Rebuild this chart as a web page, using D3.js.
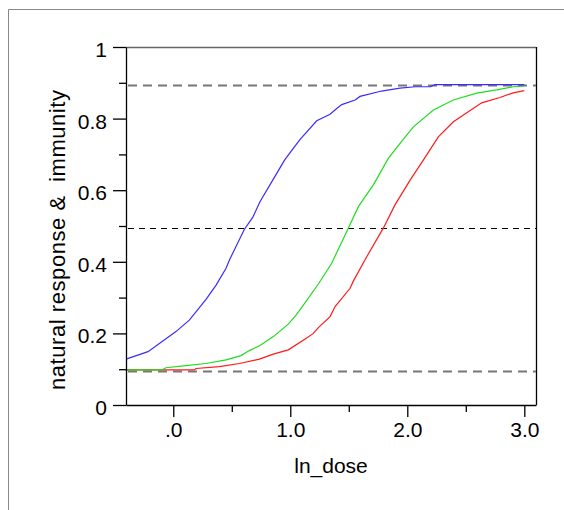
<!DOCTYPE html>
<html>
<head>
<meta charset="utf-8">
<script src="https://cdn.jsdelivr.net/npm/d3@7"></script>
<style>
  body { margin: 0; background: #fff; }
  svg text { font-family: "Liberation Sans", Arial, sans-serif; fill: #000; }
</style>
</head>
<body>
<div id="chart"></div>
<script>
// ln_dose / response values
const blueDose = [-0.404, -0.216, 0.023, 0.137, 0.28, 0.366, 0.451, 0.48, 0.608, 0.679, 0.741, 0.85, 0.955, 1.084, 1.226, 1.34, 1.397, 1.44, 1.554, 1.596, 1.78, 1.938, 2.066, 2.2, 2.236, 2.5, 2.8, 3.0]
const blueResp = [0.128, 0.149, 0.205, 0.237, 0.295, 0.335, 0.382, 0.405, 0.491, 0.524, 0.568, 0.628, 0.686, 0.742, 0.794, 0.812, 0.828, 0.839, 0.852, 0.862, 0.877, 0.885, 0.889, 0.889, 0.895, 0.895, 0.895, 0.895]

const greenDose = [-0.404, -0.1, -0.063, 0.108, 0.28, 0.451, 0.579, 0.65, 0.741, 0.855, 0.983, 1.049, 1.112, 1.24, 1.354, 1.496, 1.582, 1.71, 1.838, 1.938, 2.052, 2.223, 2.394, 2.593, 2.764, 2.906, 3.0]
const greenResp = [0.098, 0.098, 0.104, 0.11, 0.116, 0.126, 0.138, 0.152, 0.166, 0.191, 0.226, 0.251, 0.279, 0.338, 0.396, 0.494, 0.554, 0.615, 0.689, 0.731, 0.777, 0.824, 0.852, 0.871, 0.88, 0.889, 0.891]

const redDose = [-0.404, 0.18, 0.195, 0.394, 0.565, 0.736, 0.855, 0.983, 1.134, 1.197, 1.24, 1.34, 1.383, 1.511, 1.539, 1.653, 1.795, 1.895, 2.024, 2.137, 2.265, 2.394, 2.636, 2.792, 2.906, 3.0]
const redResp = [0.098, 0.098, 0.102, 0.107, 0.116, 0.128, 0.142, 0.154, 0.186, 0.2, 0.216, 0.247, 0.275, 0.326, 0.346, 0.414, 0.494, 0.559, 0.628, 0.684, 0.749, 0.791, 0.844, 0.859, 0.872, 0.878]

const refLevels = [0.095, 0.495, 0.895]
const xMajor = [0, 1, 2, 3]
const xMinor = [0.5, 1.5, 2.5]
const yMajor = [0, 0.2, 0.4, 0.6, 0.8, 1]
const yMinor = [0.1, 0.3, 0.5, 0.7, 0.9]

const W = 564, H = 510
const margin = {top: 47, right: 28, bottom: 105, left: 126}
const width = W - margin.left - margin.right
const height = H - margin.top - margin.bottom

const svg = d3.select("#chart")
  .append("svg")
  .attr("width", W)
  .attr("height", H)

// outer frame (left + top only)
svg.append("path")
  .attr("d", "M8.5," + H + "V9.5H" + W)
  .attr("fill", "none")
  .attr("stroke", "#888")
  .attr("stroke-width", 1)

const g = svg.append("g")
  .attr("transform", "translate(" + margin.left + "," + margin.top + ")")

const x = d3.scaleLinear().domain([-0.404, 3.1]).range([0, width])
const y = d3.scaleLinear().domain([0, 1]).range([height, 0])

// box top + right
g.append("line").attr("x1", 0).attr("x2", width).attr("y1", 0.5).attr("y2", 0.5)
  .attr("stroke", "#666").attr("stroke-width", 1.5)
g.append("line").attr("x1", width + 0.5).attr("x2", width + 0.5).attr("y1", 0).attr("y2", height)
  .attr("stroke", "#000").attr("stroke-width", 1.3)

// reference dashed lines
g.selectAll(".ref")
  .data(refLevels)
  .enter()
  .append("line")
  .attr("class", "ref")
  .attr("x1", 2)
  .attr("x2", width)
  .attr("y1", d => Math.round(y(d)) + 0.5)
  .attr("y2", d => Math.round(y(d)) + 0.5)
  .attr("stroke", (d, i) => i == 1 ? "#000" : "#777")
  .attr("stroke-width", (d, i) => i == 1 ? 1 : 2)
  .attr("stroke-dasharray", (d, i) => i == 1 ? "6,5" : "9,6")

// curves
const line = d3.line().x(d => x(d[0])).y(d => y(d[1]))
const series = [
  {dose: redDose, resp: redResp, color: "#ff1a1a"},
  {dose: greenDose, resp: greenResp, color: "#1fdc1f"},
  {dose: blueDose, resp: blueResp, color: "#3b2bff"}
]
series.forEach(s => {
  g.append("path")
    .datum(d3.zip(s.dose, s.resp))
    .attr("fill", "none")
    .attr("stroke", s.color)
    .attr("stroke-width", 1.2)
    .attr("d", line)
})

// x axis
const fmtX = d => d == 0 ? ".0" : d3.format(".1f")(d)
const xAxis = g.append("g")
  .attr("transform", "translate(0," + height + ")")
  .call(d3.axisBottom(x).tickValues(xMajor).tickSize(12).tickSizeOuter(0).tickPadding(5).tickFormat(fmtX))
xAxis.select(".domain").attr("stroke", "#000").attr("stroke-width", 1.3)
xAxis.selectAll("text").style("font-size", "21px")
g.append("g")
  .attr("transform", "translate(0," + height + ")")
  .call(d3.axisBottom(x).tickValues(xMinor).tickSize(7).tickFormat(""))
  .call(a => a.select(".domain").remove())

// y axis
const fmtY = d => d == 0 ? "0" : d == 1 ? "1" : d3.format(".1f")(d)
const yAxis = g.append("g")
  .call(d3.axisLeft(y).tickValues(yMajor).tickSize(13).tickSizeOuter(0).tickPadding(6).tickFormat(fmtY))
yAxis.select(".domain").attr("stroke", "#000").attr("stroke-width", 1.3)
yAxis.selectAll("text").style("font-size", "21px").attr("dy", "0.45em")
g.append("g")
  .call(d3.axisLeft(y).tickValues(yMinor).tickSize(7).tickFormat(""))
  .call(a => a.select(".domain").remove())

g.selectAll(".tick line").attr("stroke-width", 1.3)

// axis titles
svg.append("text")
  .attr("x", margin.left + width / 2)
  .attr("y", 473)
  .attr("text-anchor", "middle")
  .style("font-size", "21px")
  .text("ln_dose")

svg.append("text")
  .attr("transform", "translate(65,240) rotate(-90)")
  .attr("text-anchor", "middle")
  .style("font-size", "22px")
  .style("white-space", "pre")
  .attr("xml:space", "preserve")
  .attr("textLength", 300)
  .attr("lengthAdjust", "spacing")
  .text("natural response &  immunity")
</script>
</body>
</html>
